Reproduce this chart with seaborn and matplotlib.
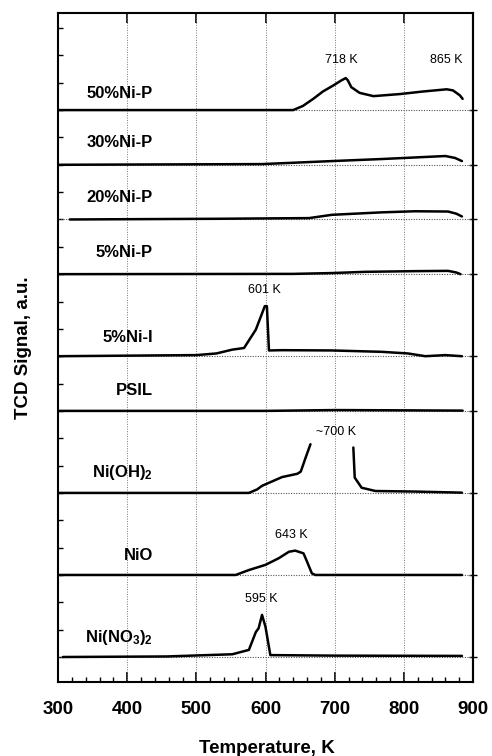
import numpy as np
import pandas as pd
import matplotlib
matplotlib.use("Agg")
import matplotlib.pyplot as plt
import seaborn as sns
from matplotlib.ticker import MultipleLocator

# ---------------- data ----------------
samples = ["50%Ni-P", "30%Ni-P", "20%Ni-P", "5%Ni-P", "5%Ni-I", "PSIL",
           r"Ni(OH)$_\mathbf{2}$", "NiO", r"Ni(NO$_\mathbf{3}$)$_\mathbf{2}$"]

t_50nip = [302, 640, 654, 669, 683, 698, 710, 716, 719, 724, 736, 756, 794, 828, 862, 871, 881, 885]
s_50nip = [0, 0, 0.15, 0.41, 0.68, 0.90, 1.09, 1.17, 1.09, 0.84, 0.63, 0.51, 0.585, 0.68, 0.76, 0.72, 0.54, 0.41]

t_30nip = [302, 595, 696, 768, 860, 874, 884]
s_30nip = [0, 0.025, 0.135, 0.21, 0.32, 0.25, 0.135]

t_20nip = [317, 529, 663, 696, 768, 816, 864, 876, 884]
s_20nip = [0, 0.025, 0.05, 0.17, 0.26, 0.30, 0.29, 0.21, 0.11]

t_5nip = [302, 640, 696, 744, 816, 864, 876, 882]
s_5nip = [0, 0.01, 0.04, 0.085, 0.11, 0.12, 0.06, 0.0]

t_5nii = [302, 500, 529, 552, 569, 586, 599, 602, 605, 624, 696, 768, 806, 831, 860, 884]
s_5nii = [0, 0.04, 0.10, 0.24, 0.30, 0.97, 1.83, 1.83, 0.21, 0.22, 0.21, 0.16, 0.10, 0.0, 0.04, 0.0]

t_psil = [302, 600, 700, 800, 885]
s_psil = [0, 0, 0.03, 0.02, 0.01]

t_nioh2_a = [302, 576, 588, 595, 624, 646, 651, 658, 665]
s_nioh2_a = [0, 0, 0.13, 0.26, 0.58, 0.70, 0.78, 1.29, 1.78]
t_nioh2_b = [727, 729, 739, 759, 816, 884]
s_nioh2_b = [1.66, 0.56, 0.19, 0.07, 0.05, 0.01]

t_nio = [302, 557, 576, 600, 619, 634, 643, 655, 660, 667, 672, 884]
s_nio = [0, 0, 0.18, 0.37, 0.61, 0.85, 0.89, 0.79, 0.49, 0.06, 0, 0]

t_nino3 = [307, 457, 552, 576, 586, 590, 595, 600, 607, 700, 884]
s_nino3 = [0, 0.02, 0.10, 0.26, 0.91, 1.05, 1.54, 1.10, 0.07, 0.05, 0.04]

peak_text = ["718 K", "865 K", "601 K", "~700 K", "643 K", "595 K"]
peak_temp = [709, 861, 598, 702, 638, 594]

x_ticks = [300, 400, 500, 600, 700, 800, 900]

# ---------------- layout ----------------
baselines = [20, 18, 16, 14, 11, 9, 6, 3, 0]
label_y = [20.6, 18.8, 16.8, 14.8, 11.7, 9.76, 6.76, 3.73, 0.73]
peak_y = [21.83, 21.83, 13.42, 8.23, 4.46, 2.12]

curves = [
    [(t_50nip, s_50nip)],
    [(t_30nip, s_30nip)],
    [(t_20nip, s_20nip)],
    [(t_5nip, s_5nip)],
    [(t_5nii, s_5nii)],
    [(t_psil, s_psil)],
    [(t_nioh2_a, s_nioh2_a), (t_nioh2_b, s_nioh2_b)],
    [(t_nio, s_nio)],
    [(t_nino3, s_nino3)],
]

sns.set_theme(style="ticks")
plt.rcParams["font.family"] = ["Liberation Sans", "DejaVu Sans"]
plt.rcParams["mathtext.fontset"] = "custom"
plt.rcParams["mathtext.rm"] = "Liberation Sans:bold"
plt.rcParams["mathtext.bf"] = "Liberation Sans:bold"
plt.rcParams["mathtext.default"] = "bf"
for key in ["text.color", "axes.labelcolor", "xtick.color", "ytick.color", "axes.edgecolor"]:
    plt.rcParams[key] = "black"

fig = plt.figure(figsize=(4.92, 7.56), dpi=100)
ax = fig.add_axes([58 / 492, 1 - 682 / 756, (473 - 58) / 492, (682 - 13) / 756])

# grid lines & baselines (dotted)
for xv in x_ticks[1:-1]:
    ax.axvline(xv, color="#777777", lw=0.7, ls=(0, (1, 1.5)), zorder=1)
for b in baselines:
    ax.axhline(b, color="#555555", lw=0.8, ls=(0, (1, 1.3)), zorder=1)

for b, segs in zip(baselines, curves):
    for t, s in segs:
        df = pd.DataFrame({"T": t, "S": np.asarray(s) + b})
        sns.lineplot(data=df, x="T", y="S", ax=ax, color="black", lw=1.8,
                     estimator=None, sort=False, zorder=3)

for name, ly in zip(samples, label_y):
    ax.text(437, ly, name, ha="right", va="center", fontsize=12,
            fontweight="bold", color="black")

for txt, tx, ty in zip(peak_text, peak_temp, peak_y):
    ax.text(tx, ty, txt, ha="center", va="center", fontsize=9, color="black")

ax.set_xlim(300, 900)
ax.set_ylim(-0.914, 23.55)
ax.set_xticks(x_ticks)
ax.xaxis.set_minor_locator(MultipleLocator(20))
ax.set_yticks(np.arange(0, 24, 1))
ax.set_yticklabels([])
ax.set_xticklabels([str(v) for v in x_ticks], fontsize=13.5, fontweight="bold",
                   color="black")

ax.tick_params(axis="x", which="major", direction="in", length=7, width=1.2,
               top=True, bottom=True, pad=14)
ax.tick_params(axis="x", which="minor", direction="in", length=3.5, width=1.0,
               top=False, bottom=True)
ax.tick_params(axis="y", which="major", direction="in", length=3.5, width=1.0,
               left=True, right=False)

sec = ax.secondary_yaxis("right")
sec.set_yticks(baselines)
sec.set_yticklabels([])
sec.tick_params(direction="inout", length=6, width=1.0)
sec.spines["right"].set_linewidth(1.5)

for sp in ax.spines.values():
    sp.set_linewidth(1.5)
    sp.set_color("black")

ax.set_xlabel("Temperature, K", fontsize=13.5, fontweight="bold", color="black")
ax.set_ylabel("TCD Signal, a.u.", fontsize=13.5, fontweight="bold", color="black")
ax.xaxis.set_label_coords(0.504, -0.087)
ax.yaxis.set_label_coords(-0.063, 0.5)
ax.set_facecolor("white")
fig.patch.set_facecolor("white")

fig.savefig("out.png", dpi=100)
